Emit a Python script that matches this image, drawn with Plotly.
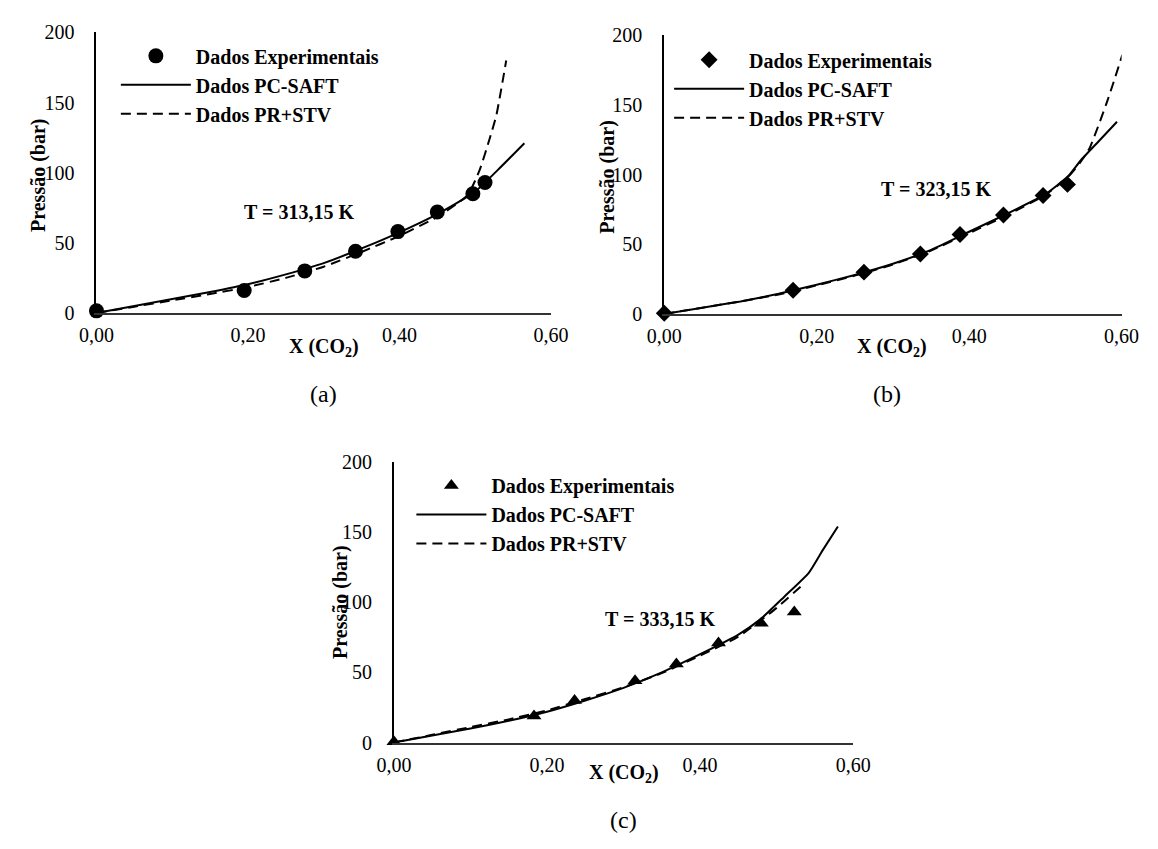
import plotly.graph_objects as go

W, H = 1158, 849

# ---------------- data ----------------
# (a) T = 313,15 K
exp_a_x = [0.0, 0.195, 0.275, 0.342, 0.398, 0.450, 0.497, 0.513]
exp_a_y = [1.5, 16, 30, 44, 58, 72, 85, 93]
saft_a_x = [0, 0.05, 0.10, 0.15, 0.20, 0.25, 0.30, 0.35, 0.40, 0.45, 0.50, 0.53, 0.565]
saft_a_y = [0, 5, 10, 15, 20.5, 27.5, 35.5, 46, 57.5, 70.5, 86.5, 102, 121]
pr_a_x = [0, 0.05, 0.10, 0.15, 0.20, 0.25, 0.30, 0.35, 0.40, 0.45, 0.49, 0.506, 0.519, 0.528, 0.541]
pr_a_y = [0, 4.5, 9, 13.5, 18.5, 25, 33, 43.5, 55, 68.5, 84, 102, 124, 141, 180]

# (b) T = 323,15 K
exp_b_x = [0.0, 0.169, 0.262, 0.336, 0.388, 0.445, 0.497, 0.529]
exp_b_y = [0.5, 17, 30, 43, 57, 71, 85, 93]
saft_b_x = [0, 0.05, 0.10, 0.15, 0.20, 0.25, 0.30, 0.35, 0.40, 0.45, 0.50, 0.53, 0.546, 0.57, 0.594]
saft_b_y = [0, 4.5, 9, 14.5, 21, 28, 36, 46, 59, 72, 86, 99, 110, 124, 138]
pr_b_x = [0, 0.05, 0.10, 0.15, 0.20, 0.25, 0.30, 0.35, 0.40, 0.45, 0.50, 0.53, 0.546, 0.558, 0.582, 0.601]
pr_b_y = [0, 4.5, 9, 14, 20.5, 27.5, 35.5, 45.5, 58, 71, 85.5, 98.5, 109, 119, 154, 186]

# (c) T = 333,15 K
exp_c_x = [0.0, 0.183, 0.236, 0.315, 0.369, 0.424, 0.480, 0.523]
exp_c_y = [0.5, 19, 30, 44, 56, 71, 85, 93]
saft_c_x = [0, 0.05, 0.10, 0.15, 0.20, 0.25, 0.30, 0.35, 0.40, 0.45, 0.479, 0.51, 0.542, 0.56, 0.58]
saft_c_y = [0, 5, 10, 15.5, 22, 30, 39, 50, 63, 77, 88, 104, 121, 137, 154]
pr_c_x = [0, 0.05, 0.10, 0.15, 0.20, 0.25, 0.30, 0.35, 0.40, 0.45, 0.50, 0.533]
pr_c_y = [0, 5.5, 11, 16.5, 23, 31, 39.5, 49.5, 62, 75.5, 96, 112]

temps = ["T = 313,15 K", "T = 323,15 K", "T = 333,15 K"]
temp_pos_x = [0.267, 0.357, 0.347]
temp_pos_y = [72, 90, 88]
captions = ["(a)", "(b)", "(c)"]
x_tickvals = [0, 0.2, 0.4, 0.6]
x_ticktext = ["0,00", "0,20", "0,40", "0,60"]
y_tickvals = [0, 50, 100, 150, 200]
names = ["Dados Experimentais", "Dados PC-SAFT", "Dados PR+STV"]
symbols = ["circle", "diamond", "triangle-up"]
marker_sizes = [15, 13, 13]

# ---------------- layout helpers (pixel -> paper) ----------------
def px(x):
    return x / W

def py(y):
    return 1 - y / H

SERIF = "Liberation Serif, Times New Roman, serif"

panels = [
    dict(exp=(exp_a_x, exp_a_y), saft=(saft_a_x, saft_a_y), pr=(pr_a_x, pr_a_y),
         dom_x=(81, 550), dom_y=(22, 310), leg=(101, 26),
         ytitle=(21, 168), xtitle=(316, 345), cap=(315, 393)),
    dict(exp=(exp_b_x, exp_b_y), saft=(saft_b_x, saft_b_y), pr=(pr_b_x, pr_b_y),
         dom_x=(667, 1139), dom_y=(25, 311), leg=(672, 30),
         ytitle=(608, 170), xtitle=(902, 345), cap=(897, 393)),
    dict(exp=(exp_c_x, exp_c_y), saft=(saft_c_x, saft_c_y), pr=(pr_c_x, pr_c_y),
         dom_x=(388, 862), dom_y=(463, 751), leg=(406, 467),
         ytitle=(333, 607), xtitle=(625, 783), cap=(625, 831)),
]

fig = go.Figure()
layout = dict(
    width=W, height=H, margin=dict(l=0, r=0, t=0, b=0),
    paper_bgcolor="white", plot_bgcolor="white", showlegend=True,
    annotations=[],
)

for i, p in enumerate(panels):
    sfx = "" if i == 0 else str(i + 1)
    xa, ya = "x" + sfx, "y" + sfx
    lg = "legend" + sfx
    fig.add_trace(go.Scatter(
        x=p["saft"][0], y=p["saft"][1], mode="lines", name=names[1],
        line=dict(color="black", width=2, shape="spline", smoothing=0.5),
        xaxis=xa, yaxis=ya, legend=lg, legendrank=2, cliponaxis=False))
    fig.add_trace(go.Scatter(
        x=p["pr"][0], y=p["pr"][1], mode="lines", name=names[2],
        line=dict(color="black", width=2, dash="10px,6px", shape="spline", smoothing=0.5),
        xaxis=xa, yaxis=ya, legend=lg, legendrank=3, cliponaxis=False))
    fig.add_trace(go.Scatter(
        x=p["exp"][0], y=p["exp"][1], mode="markers", name=names[0],
        marker=dict(symbol=symbols[i], size=marker_sizes[i], color="black",
                    line=dict(width=0)),
        xaxis=xa, yaxis=ya, legend=lg, legendrank=1, cliponaxis=False))

    layout["xaxis" + sfx] = dict(
        domain=[px(p["dom_x"][0]), px(p["dom_x"][1])], anchor=ya,
        range=[0, 0.6], tickvals=x_tickvals, ticktext=x_ticktext,
        showgrid=False, zeroline=False, showline=True,
        linecolor="#333333", linewidth=2, ticks="", ticklabelstandoff=3,
        tickfont=dict(family=SERIF, size=20, color="black"))
    layout["yaxis" + sfx] = dict(
        domain=[py(p["dom_y"][1]), py(p["dom_y"][0])], anchor=xa,
        range=[0, 200], tickvals=y_tickvals,
        showgrid=False, zeroline=False, showline=True,
        linecolor="black", linewidth=2, ticks="", ticklabelstandoff=16,
        tickfont=dict(family=SERIF, size=20, color="black"))
    layout[lg] = dict(
        x=px(p["leg"][0]), y=py(p["leg"][1]), xanchor="left", yanchor="top",
        bgcolor="rgba(0,0,0,0)", borderwidth=0, tracegroupgap=0, itemwidth=70,
        font=dict(family=SERIF, size=20, color="black", weight="bold"))

    bold = dict(family=SERIF, size=20, color="black", weight="bold")
    anns = layout["annotations"]
    anns.append(dict(text=temps[i], x=temp_pos_x[i], y=temp_pos_y[i], xref=xa, yref=ya,
                     xanchor="center", yanchor="middle", showarrow=False, font=bold))
    anns.append(dict(text="Pressão (bar)", x=px(p["ytitle"][0]), y=py(p["ytitle"][1]),
                     xref="paper", yref="paper", xanchor="center", yanchor="middle",
                     textangle=-90, showarrow=False, font=bold))
    anns.append(dict(text="X (CO<sub>2</sub>)", x=px(p["xtitle"][0]), y=py(p["xtitle"][1]),
                     xref="paper", yref="paper", xanchor="center", yanchor="middle",
                     showarrow=False, font=bold))
    anns.append(dict(text=captions[i], x=px(p["cap"][0]), y=py(p["cap"][1]),
                     xref="paper", yref="paper", xanchor="center", yanchor="middle",
                     showarrow=False, font=dict(family=SERIF, size=24, color="black")))

fig.update_layout(**layout)
fig.write_html("out.html")
